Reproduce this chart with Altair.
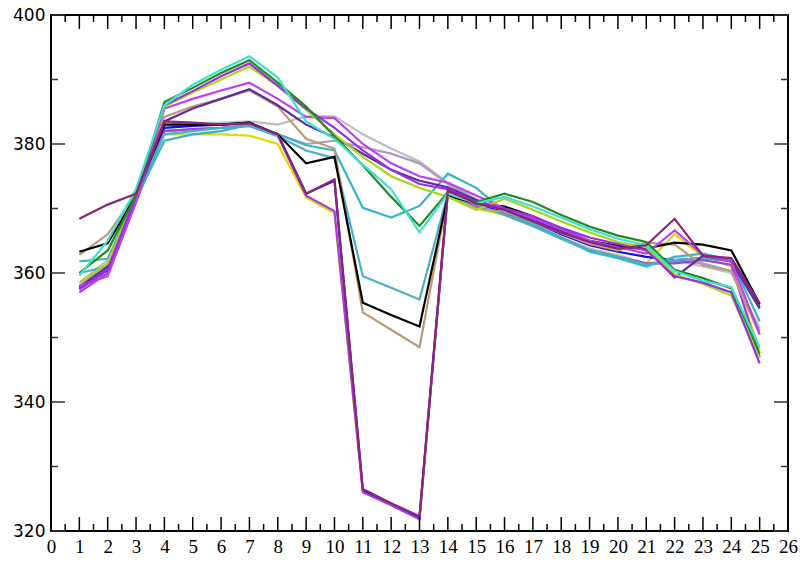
import altair as alt
import pandas as pd

# ---- data (x = 1..25) ----
x_vals = list(range(1, 26))

s_gray     = [358.5, 362.0, 372.0, 383.0, 383.2, 383.3, 383.5, 383.0, 384.3, 384.3, 381.5, 379.3, 377.3, 374.0, 371.5, 369.3, 367.5, 365.5, 363.8, 362.8, 361.5, 362.0, 361.0, 360.0, 351.5]
s_lavender = [358.0, 361.5, 371.8, 382.0, 382.3, 382.5, 383.0, 381.5, 380.0, 380.5, 379.5, 378.5, 377.0, 373.8, 371.3, 369.0, 367.3, 365.3, 363.5, 362.5, 361.3, 361.8, 361.5, 360.3, 351.0]
s_yellow   = [357.5, 360.5, 371.5, 381.5, 381.5, 381.5, 381.3, 380.0, 371.7, 369.3, 326.2, 324.2, 322.0, 372.3, 370.0, 369.0, 367.3, 365.3, 363.5, 362.5, 361.5, 366.0, 362.5, 361.0, 348.0]
s_blue     = [357.5, 360.5, 371.5, 382.5, 382.8, 383.0, 383.3, 381.5, 372.3, 374.3, 326.3, 324.2, 322.1, 372.5, 370.5, 369.5, 368.0, 366.0, 364.3, 363.3, 362.5, 362.0, 362.3, 362.0, 354.8]
s_violet2  = [357.0, 360.0, 371.0, 382.0, 382.3, 382.5, 382.8, 381.3, 372.0, 369.6, 326.0, 324.0, 321.8, 372.5, 370.3, 369.3, 367.5, 365.5, 363.5, 362.5, 361.5, 361.5, 362.0, 361.3, 347.0]
s_teal     = [361.8, 362.2, 372.0, 381.5, 382.0, 382.5, 382.8, 381.2, 379.0, 377.8, 359.5, 357.7, 355.9, 372.3, 370.6, 369.0, 367.3, 365.3, 363.5, 362.5, 361.3, 362.0, 362.3, 361.8, 354.5]
s_teal2    = [360.0, 361.0, 371.5, 380.5, 381.5, 382.0, 383.0, 381.5, 379.8, 379.0, 370.1, 368.6, 370.4, 375.4, 373.2, 369.5, 367.5, 365.5, 363.3, 362.3, 361.0, 362.5, 363.0, 362.0, 352.5]
s_tan      = [362.8, 366.0, 372.3, 384.2, 385.8, 387.0, 388.3, 385.8, 380.8, 379.3, 353.9, 351.2, 348.5, 372.0, 370.0, 369.5, 368.0, 366.2, 364.5, 363.5, 364.7, 364.4, 361.2, 360.3, 350.5]
s_black    = [363.3, 364.6, 372.0, 383.0, 383.0, 383.0, 383.3, 381.5, 377.0, 378.0, 355.4, 353.5, 351.7, 372.0, 370.8, 370.3, 368.8, 366.8, 365.0, 364.2, 363.8, 364.7, 364.4, 363.5, 355.2]
s_indigo   = [357.8, 361.0, 371.5, 383.5, 385.5, 387.0, 388.5, 386.0, 383.0, 381.0, 378.5, 376.0, 374.3, 373.3, 371.3, 369.8, 368.3, 366.5, 364.8, 363.8, 363.8, 359.3, 362.7, 361.8, 354.5]
s_orchid   = [358.0, 359.5, 371.0, 385.5, 387.0, 388.3, 389.5, 387.0, 384.2, 384.0, 380.0, 377.0, 375.0, 374.0, 372.0, 370.0, 368.5, 366.8, 365.0, 364.0, 363.0, 366.6, 362.8, 361.8, 350.5]
s_ygreen   = [358.5, 361.5, 372.0, 385.8, 388.0, 390.0, 392.0, 389.0, 385.3, 381.5, 378.0, 375.0, 373.2, 371.8, 369.8, 371.5, 369.8, 368.0, 366.3, 364.8, 364.0, 359.8, 358.3, 356.5, 346.8]
s_violet   = [357.5, 360.5, 372.0, 386.0, 388.2, 390.5, 392.5, 389.0, 385.5, 382.5, 379.0, 376.0, 373.8, 373.0, 371.0, 370.0, 368.8, 367.0, 365.5, 364.5, 363.5, 359.5, 358.5, 357.0, 346.0]
s_green    = [360.0, 363.5, 372.0, 386.5, 388.7, 391.0, 393.0, 389.5, 385.8, 381.2, 376.7, 371.8, 367.3, 372.5, 371.0, 372.3, 371.0, 369.0, 367.2, 365.8, 364.8, 360.5, 359.2, 357.6, 347.5]
s_cyan     = [359.6, 365.0, 373.0, 386.0, 389.2, 391.5, 393.6, 390.3, 383.5, 380.8, 376.8, 373.0, 366.3, 372.3, 370.8, 371.8, 370.3, 368.6, 366.8, 365.3, 364.3, 360.3, 358.8, 357.8, 348.5]
s_maroon   = [368.4, 370.6, 372.3, 383.5, 383.3, 383.0, 383.2, 381.5, 372.3, 374.5, 326.5, 324.3, 322.3, 372.8, 370.8, 369.8, 368.0, 366.3, 364.8, 363.8, 364.3, 368.4, 362.7, 362.3, 355.3]

series_names = ["s01", "s02", "s03", "s04", "s05", "s06", "s07", "s08",
                "s09", "s10", "s11", "s12", "s13", "s14", "s15", "s16"]
series_values = [s_gray, s_lavender, s_yellow, s_blue, s_violet2, s_teal, s_teal2, s_tan,
                 s_black, s_indigo, s_orchid, s_ygreen, s_violet, s_green, s_cyan, s_maroon]
series_colors = ["#BEBEBE", "#A89CC8", "#DCDC00", "#1010E0", "#A040D8", "#4AB0C8", "#38B4C8", "#B89C78",
                 "#000000", "#5E2C9C", "#C040F0", "#A8D818", "#9A30E0", "#228B22", "#40E0D0", "#8B2575"]

# axis tick values
x_major_ticks = list(range(0, 27))
x_minor_ticks = [i + 0.5 for i in range(26)]
y_major_ticks = [320, 340, 360, 380, 400]
y_minor_ticks = [330, 350, 370, 390]

rows = []
for name, vals in zip(series_names, series_values):
    for xv, yv in zip(x_vals, vals):
        rows.append({"series": name, "x": xv, "y": yv})
df = pd.DataFrame(rows)

W, H = 737, 516
MAJ, MIN = 14, 7

xscale = alt.Scale(domain=[0, 26], nice=False, zero=False)
yscale = alt.Scale(domain=[320, 400], nice=False, zero=False)

x_axis = alt.Axis(values=x_major_ticks, title=None, ticks=False, domain=False, grid=False,
                  labelFont="Liberation Serif", labelFontSize=19, labelColor="black",
                  labelPadding=6, format="d", labelFlush=False, labelOverlap=False)
y_axis = alt.Axis(values=y_major_ticks, title=None, ticks=False, domain=False, grid=False,
                  labelFont="DejaVu Sans", labelFontSize=17, labelColor="black",
                  labelPadding=6, format="d", labelFlush=False, labelOverlap=False)

lines = alt.Chart(df).mark_line(strokeWidth=2.2).encode(
    x=alt.X("x:Q", scale=xscale, axis=x_axis),
    y=alt.Y("y:Q", scale=yscale, axis=y_axis),
    color=alt.Color("series:N", scale=alt.Scale(domain=series_names, range=series_colors), legend=None),
    order=alt.Order("x:Q"),
)

def xticks(vals, length):
    d = pd.DataFrame({"v": vals})
    bottom = alt.Chart(d).mark_rule(color="black", strokeWidth=1.5).encode(
        x=alt.X("v:Q", scale=xscale, axis=x_axis), y=alt.value(H), y2=alt.value(H - length))
    top = alt.Chart(d).mark_rule(color="black", strokeWidth=1.5).encode(
        x=alt.X("v:Q", scale=xscale, axis=x_axis), y=alt.value(0), y2=alt.value(length))
    return [bottom, top]

def yticks(vals, length):
    d = pd.DataFrame({"v": vals})
    left = alt.Chart(d).mark_rule(color="#333333", strokeWidth=1.5).encode(
        y=alt.Y("v:Q", scale=yscale, axis=y_axis), x=alt.value(0), x2=alt.value(length))
    right = alt.Chart(d).mark_rule(color="#333333", strokeWidth=1.5).encode(
        y=alt.Y("v:Q", scale=yscale, axis=y_axis), x=alt.value(W), x2=alt.value(W - length))
    return [left, right]

layers = [lines] + xticks(x_major_ticks, MAJ) + xticks(x_minor_ticks, MIN) \
    + yticks(y_major_ticks, MAJ) + yticks(y_minor_ticks, MIN)

chart = alt.layer(*layers).properties(
    width=W, height=H,
    autosize=alt.AutoSizeParams(type="none"),
    padding={"left": 51, "top": 15, "right": 18, "bottom": 31},
    background="white",
).configure_view(stroke="black", strokeWidth=2)

chart.save("out.html", embed_options={"renderer": "svg", "actions": False})
